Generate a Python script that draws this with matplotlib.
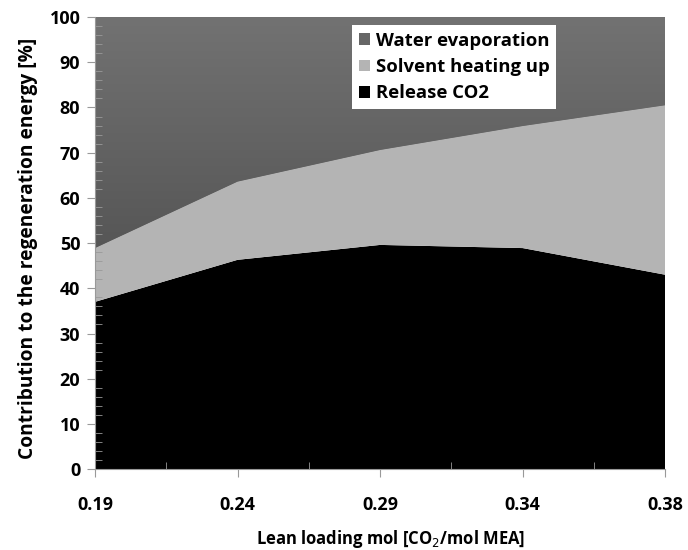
import numpy as np
import matplotlib.pyplot as plt
from matplotlib.colors import LinearSegmentedColormap
from matplotlib.ticker import MultipleLocator, FixedLocator

plt.rcParams['font.family'] = ['Open Sans', 'DejaVu Sans']

# lean loading categories (equally spaced category axis)
loadings = ["0.19", "0.24", "0.29", "0.34", "0.38"]
release_co2 = [37.0, 46.3, 49.6, 48.9, 43.0]
solvent_heating = [11.9, 17.3, 21.0, 27.0, 37.5]
water_evap = [100 - a - b for a, b in zip(release_co2, solvent_heating)]

x = np.arange(len(loadings))

fig = plt.figure(figsize=(6.88, 5.5), dpi=100)
ax = fig.add_axes([0.138, 0.147, 0.829, 0.822])

polys = ax.stackplot(x, release_co2, solvent_heating, water_evap,
                     colors=["#000000", "#b4b4b4", "#666666"],
                     labels=["Release CO2", "Solvent heating up", "Water evaporation"],
                     linewidth=0)

# gradient fill for the water evaporation band
cmap = LinearSegmentedColormap.from_list("g", ["#545454", "#727272"])
grad = np.linspace(0, 1, 256).reshape(-1, 1)
im = ax.imshow(grad, cmap=cmap, aspect="auto", origin="lower",
               extent=[x[0], x[-1], 45, 100], zorder=polys[2].get_zorder() + 0.1)
im.set_clip_path(polys[2].get_paths()[0], ax.transData)

ax.set_xlim(x[0], x[-1])
ax.set_ylim(0, 100)

ax.set_xticks(x)
ax.set_xticklabels(loadings)
ax.xaxis.set_minor_locator(FixedLocator(x[:-1] + 0.5))
ax.yaxis.set_major_locator(MultipleLocator(10))
ax.yaxis.set_minor_locator(MultipleLocator(2))

ax.tick_params(axis="both", which="major", direction="out", length=6,
               color="#999999", labelsize=13)
ax.tick_params(axis="both", which="minor", direction="in", length=5, color="#999999")
ax.tick_params(axis="x", which="major", pad=13)
ax.tick_params(axis="y", which="major", pad=4.5)
for lab in ax.get_xticklabels() + ax.get_yticklabels():
    lab.set_fontweight("bold")

for side in ["top", "right"]:
    ax.spines[side].set_visible(False)
for side in ["left", "bottom"]:
    ax.spines[side].set_color("#999999")

ax.set_xlabel("Lean loading mol [CO$_2$/mol MEA]", fontsize=12, fontweight="bold")
ax.set_ylabel("Contribution to the regeneration energy [%]", fontsize=13.8,
              fontweight="bold")
ax.xaxis.set_label_coords(0.518, -0.13)
ax.yaxis.set_label_coords(-0.10, 0.488)

handles, labels = ax.get_legend_handles_labels()
leg = ax.legend(handles[::-1], labels[::-1], loc="upper left",
                bbox_to_anchor=(0.451, 0.982), frameon=True, fancybox=False,
                framealpha=1, edgecolor="white", facecolor="white",
                prop={"weight": "bold", "size": 13.3},
                handlelength=0.6, handleheight=0.6, handletextpad=0.35,
                labelspacing=0.45, borderpad=0.35, borderaxespad=0)
leg.get_frame().set_linewidth(0)

fig.savefig("out.png", dpi=100)
